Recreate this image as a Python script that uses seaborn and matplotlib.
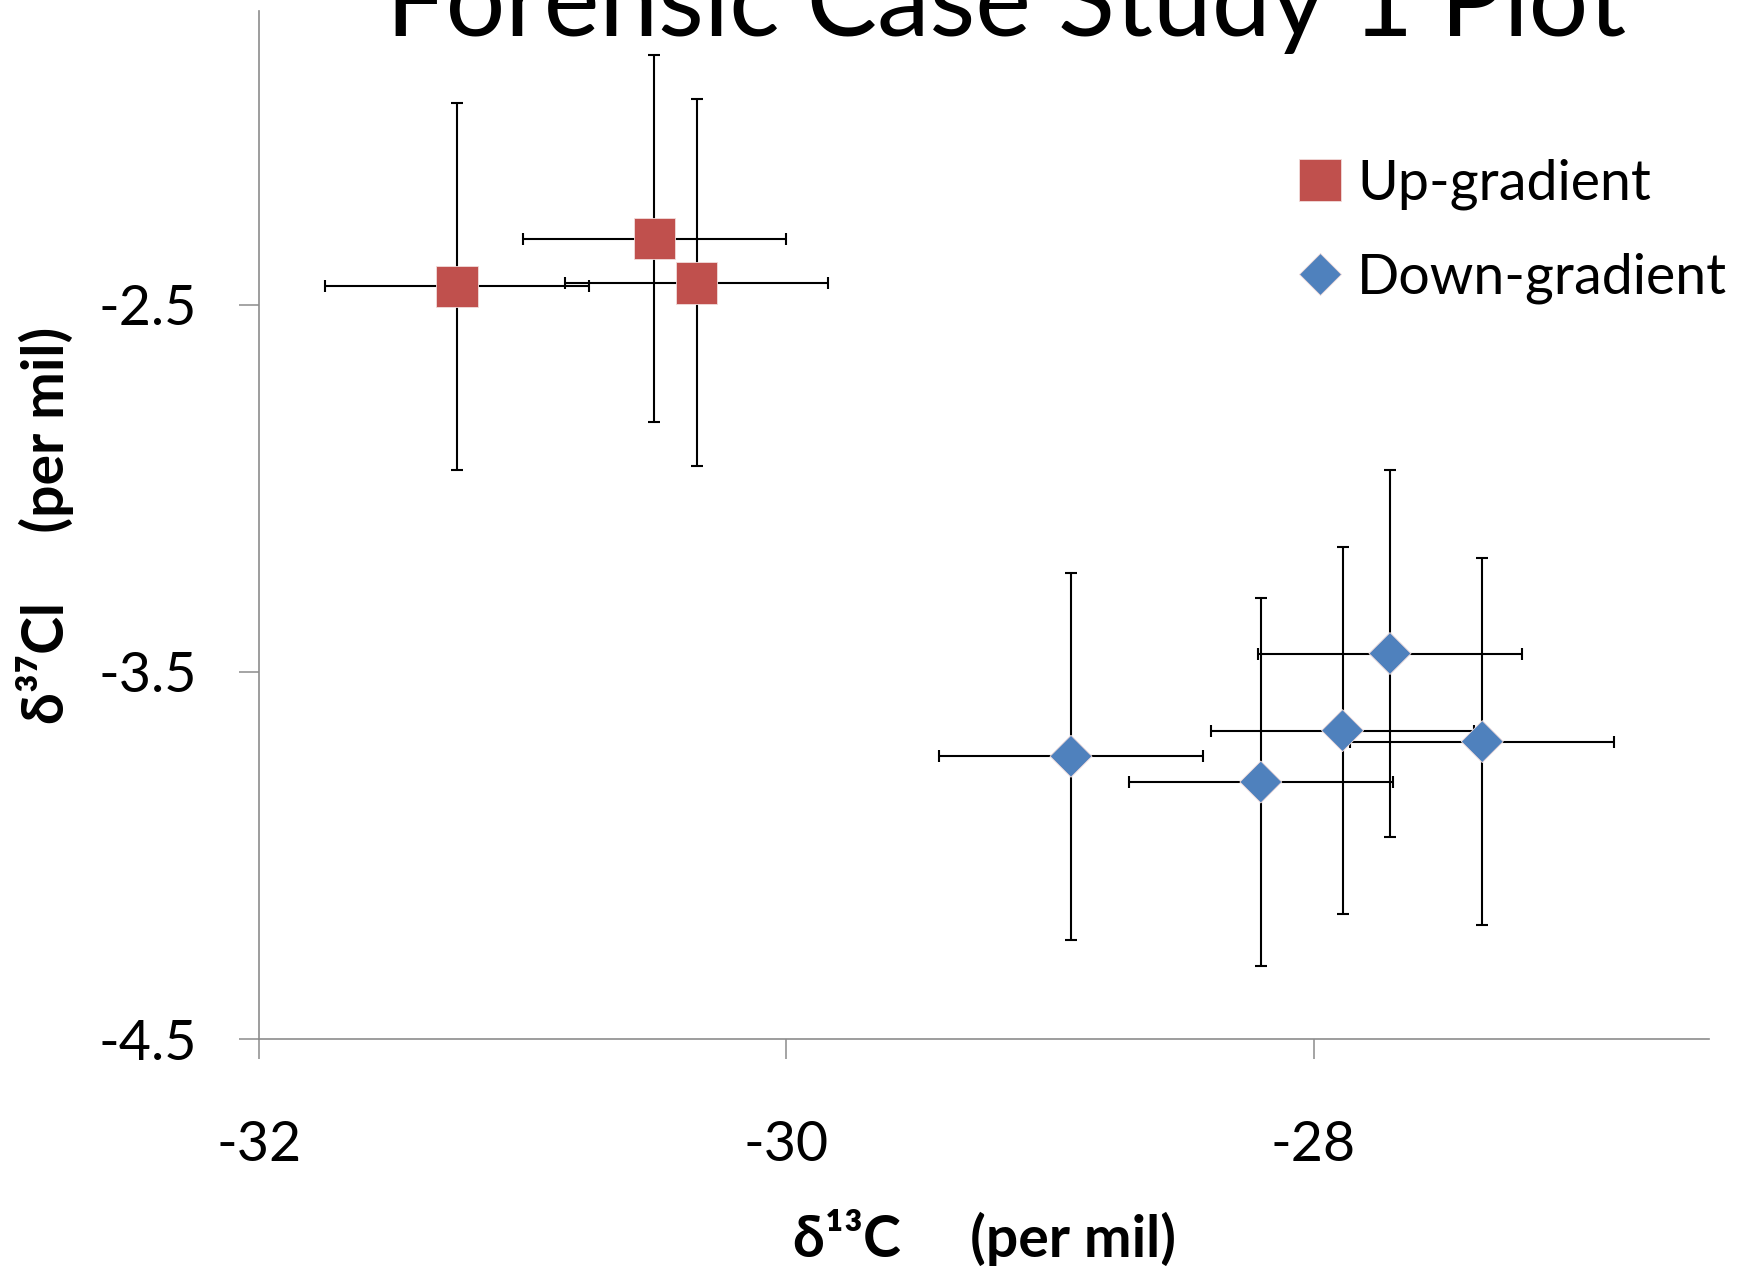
import numpy as np
import pandas as pd
import matplotlib
matplotlib.use("Agg")
import matplotlib.pyplot as plt
import seaborn as sns

# ---- data ----
up_x = [-31.25, -30.50, -30.34]
up_y = [-2.45, -2.32, -2.44]
up_xerr = [0.5, 0.5, 0.5]
up_yerr = [0.5, 0.5, 0.5]

down_x = [-28.92, -28.20, -27.89, -27.71, -27.36]
down_y = [-3.73, -3.80, -3.66, -3.45, -3.69]
down_xerr = [0.5, 0.5, 0.5, 0.5, 0.5]
down_yerr = [0.5, 0.5, 0.5, 0.5, 0.5]

groups = ["Up-gradient", "Down-gradient"]
x_ticks = [-32, -30, -28]
y_ticks = [-4.5, -3.5, -2.5]
title = "Forensic Case Study 1 Plot"
x_label = "δ¹³C     (per mil)"
y_label = "δ³⁷Cl     (per mil)"

df = pd.DataFrame({
    "x": up_x + down_x,
    "y": up_y + down_y,
    "xerr": up_xerr + down_xerr,
    "yerr": up_yerr + down_yerr,
    "group": [groups[0]] * len(up_x) + [groups[1]] * len(down_x),
})

sns.set_theme(style="white")
plt.rcParams["font.family"] = ["Lato", "DejaVu Sans"]
plt.rcParams["text.color"] = "black"
plt.rcParams["axes.labelcolor"] = "black"

W, H = 1752, 1266
fig = plt.figure(figsize=(W / 100, H / 100), dpi=100)
ax = fig.add_axes([259 / W, 1 - 1039 / H, (1709 - 259) / W, (1039 - 11) / H])

ax.errorbar(df["x"], df["y"], xerr=df["xerr"], yerr=df["yerr"], fmt="none",
            ecolor="black", elinewidth=1.5, capsize=4, capthick=1.5, zorder=1)

palette = {groups[0]: "#C0504D", groups[1]: "#4F81BD"}
sns.scatterplot(data=df, x="x", y="y", hue="group", style="group", size="group",
                palette=palette, markers={groups[0]: "s", groups[1]: "D"},
                sizes={groups[0]: 900, groups[1]: 456},
                hue_order=groups, style_order=groups, size_order=groups,
                edgecolor="#F2DCDB", linewidth=0.6, ax=ax, zorder=3)

ax.set_xlim(-32, -26.5)
ax.set_ylim(-4.5, -1.7)
ax.set_xticks(x_ticks)
ax.set_yticks(y_ticks)
ax.set_xticklabels([str(v) for v in x_ticks])
ax.set_yticklabels([str(v) for v in y_ticks])

for s in ["top", "right"]:
    ax.spines[s].set_visible(False)
for s in ["left", "bottom"]:
    ax.spines[s].set_color("#8C8C8C")
    ax.spines[s].set_linewidth(1.2)

ax.tick_params(axis="both", direction="out", length=14.4, width=1.1,
               color="#8C8C8C", labelsize=40, labelcolor="black")
ax.tick_params(axis="x", pad=44, bottom=True)
ax.tick_params(axis="y", pad=30, left=True)

ax.set_xlabel(x_label, fontsize=41, fontweight="bold", va="center", ha="center",
              color="black")
ax.xaxis.set_label_coords(0.5, (1039 - 1238) / 1028)
ax.set_ylabel(y_label, fontsize=41, fontweight="bold", va="center", ha="center",
              color="black")
ax.yaxis.set_label_coords((45 - 259) / 1450, 0.5)

sns.move_legend(ax, loc="upper left", bbox_to_anchor=(1292 / W, 1 - 158 / H),
                bbox_transform=fig.transFigure, title=None, frameon=False,
                fontsize=40, handlelength=1.0, handletextpad=0.17,
                labelspacing=0.77, borderpad=0, borderaxespad=0)
for txt in ax.get_legend().get_texts():
    txt.set_color("black")

# title: fit to reference width, baseline near top edge (partly cut off)
t = fig.text(1006 / W, 1 - 36 / H, title, ha="center", va="baseline", fontsize=80,
             color="black")
fig.canvas.draw()
w = t.get_window_extent().width
t.set_fontsize(80 * 1240 / w)

fig.savefig("out.png", dpi=100, facecolor="white")
